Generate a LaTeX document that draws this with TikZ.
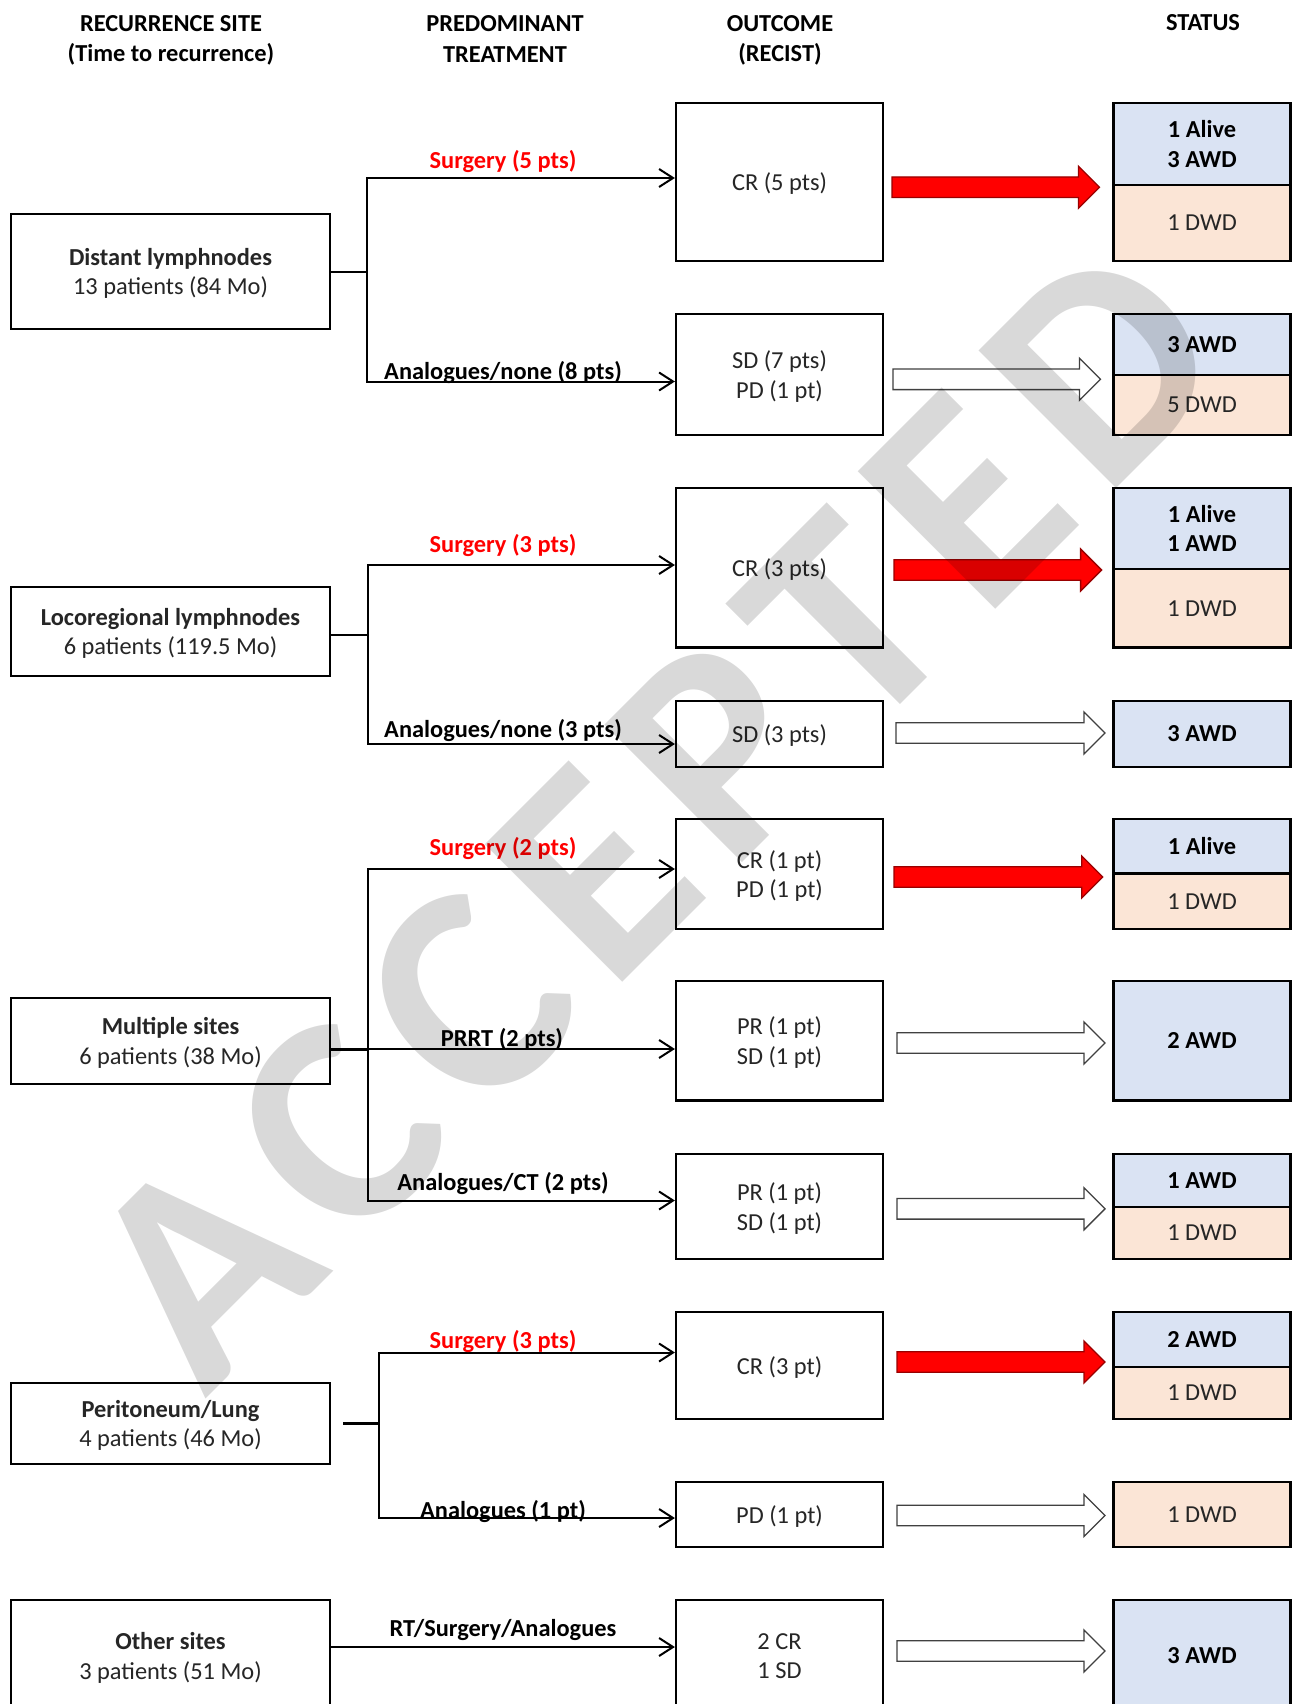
\documentclass[tikz,border=0pt]{standalone}
\usepackage{fontspec}
\setmainfont{Carlito}
\usetikzlibrary{positioning,arrows.meta,calc}
\definecolor{awdblue}{HTML}{DAE3F3}
\definecolor{dwdpeach}{HTML}{FBE5D6}
\newcommand{\boxfont}{\fontsize{24.4}{29.5}\selectfont}

\begin{document}
\begin{tikzpicture}[x=1pt, y=-1pt,
        sitebox/.style={draw, line width=2.2pt, minimum width=319pt, align=center, text depth=0pt, text=black!85, font=\boxfont},
        outbox/.style={draw, line width=2.2pt, minimum width=207pt, align=center, text depth=0pt, text=black!85, font=\boxfont},
        awd/.style={draw, line width=2.2pt, outer sep=0pt, minimum width=177pt, fill=awdblue, align=center, font=\boxfont\bfseries},
        dwd/.style={draw, line width=2.2pt, outer sep=0pt, minimum width=177pt, fill=dwdpeach, align=center, text=black!85, font=\boxfont},
        heading/.style={align=center, text depth=0pt, font=\fontsize{24.4}{30.5}\selectfont\bfseries},
        treat/.style={font=\boxfont\bfseries},
        surgery/.style={treat, text=red},
        link/.style={line width=2pt, -{Straight Barb[length=14pt,width=18pt]}},
        bigarrow/.style={line width=1.3pt, line join=miter, to path={
            ($(\tikztostart)+(0,-10.3)$) -- ($(\tikztotarget)+(-21,-10.3)$) -- ($(\tikztotarget)+(-21,-21)$)
            -- (\tikztotarget) -- ($(\tikztotarget)+(-21,21)$) -- ($(\tikztotarget)+(-21,10.3)$)
            -- ($(\tikztostart)+(0,10.3)$) -- cycle}},
        redarrow/.style={bigarrow, fill=red, draw=red!60!black},
        whitearrow/.style={bigarrow, fill=white, draw=black!75}
        ]
        \useasboundingbox (0,0) rectangle (1295,1704);
        \clip (0,0) rectangle (1295,1704);
        \fill[white] (0,0) rectangle (1295,1704);

        % column headings
        \node[heading] (h_site)  at (171,38.5)  {RECURRENCE SITE\\(Time to recurrence)};
        \node[heading] (h_treat) at (505,39)    {PREDOMINANT\\TREATMENT};
        \node[heading] (h_out)   at (780,38.5)  {OUTCOME\\(RECIST)};
        \node[heading] (h_stat)  at (1203,22.7) {STATUS};

        % recurrence sites
        \node[sitebox, minimum height=115pt] (site_1) at (170.5,271.5) {\textbf{Distant lymphnodes}\\13 patients (84 Mo)};
        \node[sitebox, minimum height=89pt]  (site_2) at (170.5,631.5) {\textbf{Locoregional lymphnodes}\\6 patients (119.5 Mo)};
        \node[sitebox, minimum height=86pt]  (site_3) at (170.5,1041)  {\textbf{Multiple sites}\\6 patients (38 Mo)};
        \node[sitebox, minimum height=81pt]  (site_4) at (170.5,1423.5) {\textbf{Peritoneum/Lung}\\4 patients (46 Mo)};
        \node[sitebox, minimum height=112pt] (site_5) at (170.5,1656)  {\textbf{Other sites}\\3 patients (51 Mo)};

        % outcomes
        \node[outbox, minimum height=158pt]   (out_1)  at (779.5,182)     {CR (5 pts)};
        \node[outbox, minimum height=121pt]   (out_2)  at (779.5,374.5)   {SD (7 pts)\\PD (1 pt)};
        \node[outbox, minimum height=159.5pt] (out_3)  at (779.5,567.75)  {CR (3 pts)};
        \node[outbox, minimum height=66pt]    (out_4)  at (779.5,734)     {SD (3 pts)};
        \node[outbox, minimum height=110pt]   (out_5)  at (779.5,874)     {CR (1 pt)\\PD (1 pt)};
        \node[outbox, minimum height=119.5pt] (out_6)  at (779.5,1040.75) {PR (1 pt)\\SD (1 pt)};
        \node[outbox, minimum height=105pt]   (out_7)  at (779.5,1206.5)  {PR (1 pt)\\SD (1 pt)};
        \node[outbox, minimum height=107pt]   (out_8)  at (779.5,1365.5)  {CR (3 pt)};
        \node[outbox, minimum height=65pt]    (out_9)  at (779.5,1514.5)  {PD (1 pt)};
        \node[outbox, minimum height=112pt]   (out_10) at (779.5,1656)    {2 CR\\1 SD};

        % status
        \node[awd, minimum height=81.7pt] (stat_1)  at (1202,143.85) {1 Alive\\3 AWD};
        \node[dwd, minimum height=76.3pt] (stat_1b) [below=0pt of stat_1] {1 DWD};
        \node[awd, minimum height=61pt]   (stat_2)  at (1202,344.5)  {3 AWD};
        \node[dwd, minimum height=60pt]   (stat_2b) [below=0pt of stat_2] {5 DWD};
        \node[awd, minimum height=81pt]   (stat_3)  at (1202,528.5)  {1 Alive\\1 AWD};
        \node[dwd, minimum height=78.5pt] (stat_3b) [below=0pt of stat_3] {1 DWD};
        \node[awd, minimum height=66pt]   (stat_4)  at (1202,734)    {3 AWD};
        \node[awd, minimum height=54.5pt] (stat_5)  at (1202,846.25) {1 Alive};
        \node[dwd, minimum height=55.5pt] (stat_5b) [below=0pt of stat_5] {1 DWD};
        \node[awd, minimum height=119.5pt] (stat_6) at (1202,1040.75) {2 AWD};
        \node[awd, minimum height=53pt]   (stat_7)  at (1202,1180.5) {1 AWD};
        \node[dwd, minimum height=52pt]   (stat_7b) [below=0pt of stat_7] {1 DWD};
        \node[awd, minimum height=55pt]   (stat_8)  at (1202,1339.5) {2 AWD};
        \node[dwd, minimum height=52pt]   (stat_8b) [below=0pt of stat_8] {1 DWD};
        \node[dwd, minimum height=65pt]   (stat_9)  at (1202,1514.5) {1 DWD};
        \node[awd, minimum height=112pt]  (stat_10) at (1202,1656)   {3 AWD};

        % treatment branches
        \draw[line width=2pt] (site_1.east) -- ++(36,0) coordinate (j_1);
        \draw[link] (j_1) |- ([yshift=4pt]out_1.west);
        \draw[link] (j_1) |- ([yshift=-7pt]out_2.west);
        \draw[line width=2pt] ([yshift=-3pt]site_2.east) -- ++(37,0) coordinate (j_2);
        \draw[link] (j_2) |- ([yshift=2.75pt]out_3.west);
        \draw[link] (j_2) |- ([yshift=-10pt]out_4.west);
        \draw[line width=3pt] ([yshift=-8pt]site_3.east) -- ++(36.7,0) coordinate (j_3);
        \draw[link] (j_3) |- ([yshift=5pt]out_5.west);
        \draw[link] (j_3) -- (j_3 -| out_6.west);
        \draw[link] (j_3) |- ([yshift=6pt]out_7.west);
        \draw[line width=3pt] ([xshift=12pt]site_4.east) -- ++(36,0) coordinate (j_4);
        \draw[link] (j_4) |- ([yshift=13pt]out_8.west);
        \draw[link] (j_4) |- ([yshift=-3.5pt]out_9.west);
        \draw[link] ([yshift=9pt]site_5.east) -- ([yshift=9pt]out_10.west);

        % treatment labels
        \node[surgery] (t_1)  at (503,161.9)  {Surgery (5 pts)};
        \node[treat]   (t_2)  at (503,372.7)  {Analogues/none (8 pts)};
        \node[surgery] (t_3)  at (503,545.2)  {Surgery (3 pts)};
        \node[treat]   (t_4)  at (503,730.2)  {Analogues/none (3 pts)};
        \node[surgery] (t_5)  at (503,848.2)  {Surgery (2 pts)};
        \node[treat]   (t_6)  at (502,1039.7) {PRRT (2 pts)};
        \node[treat]   (t_7)  at (503,1183.2) {Analogues/CT (2 pts)};
        \node[surgery] (t_8)  at (503,1341.7) {Surgery (3 pts)};
        \node[treat]   (t_9)  at (503,1511.2) {Analogues (1 pt)};
        \node[treat]   (t_10) at (503,1629.7) {RT/Surgery/Analogues};

        % block arrows outcome -> status
        \coordinate (a_1s) at (892,187.3);   \coordinate (a_1e) at (1099.5,187.3);
        \coordinate (a_2s) at (893,379.3);   \coordinate (a_2e) at (1100.5,379.3);
        \coordinate (a_3s) at (894,570);     \coordinate (a_3e) at (1101.6,570);
        \coordinate (a_4s) at (896,733);     \coordinate (a_4e) at (1105,733);
        \coordinate (a_5s) at (894,877);     \coordinate (a_5e) at (1102.7,877);
        \coordinate (a_6s) at (897,1043);    \coordinate (a_6e) at (1105,1043);
        \coordinate (a_7s) at (897,1208.8);  \coordinate (a_7e) at (1105,1208.8);
        \coordinate (a_8s) at (897,1362);    \coordinate (a_8e) at (1105,1362);
        \coordinate (a_9s) at (897,1515.5);  \coordinate (a_9e) at (1105,1515.5);
        \coordinate (a_10s) at (897,1651);   \coordinate (a_10e) at (1105,1651);
        \draw[redarrow]   (a_1s) to (a_1e);
        \draw[whitearrow] (a_2s) to (a_2e);
        \draw[redarrow]   (a_3s) to (a_3e);
        \draw[whitearrow] (a_4s) to (a_4e);
        \draw[redarrow]   (a_5s) to (a_5e);
        \draw[whitearrow] (a_6s) to (a_6e);
        \draw[whitearrow] (a_7s) to (a_7e);
        \draw[redarrow]   (a_8s) to (a_8e);
        \draw[whitearrow] (a_9s) to (a_9e);
        \draw[whitearrow] (a_10s) to (a_10e);

        % watermark
        \node[rotate=45, anchor=base west, inner sep=0pt, text=black, text opacity=0.15,
              font=\fontsize{300}{300}\selectfont\bfseries] (stamp) at (205,1400)
              {A\kern24.5pt C\kern24.5pt C\kern24.5pt E\kern24.5pt P\kern24.5pt T\kern24.5pt E\kern24.5pt D};
    \end{tikzpicture}
\end{document}
